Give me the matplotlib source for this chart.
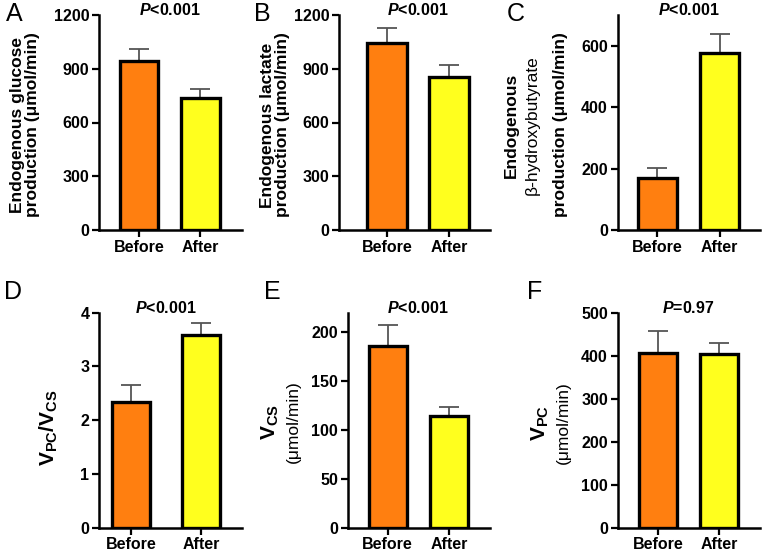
import numpy as np
import matplotlib
matplotlib.use("Agg")
import matplotlib.pyplot as plt
import matplotlib.transforms as mtransforms

plt.rcParams['font.family'] = ['Liberation Sans', 'DejaVu Sans']
plt.rcParams['mathtext.fontset'] = 'custom'
plt.rcParams['mathtext.rm'] = 'Liberation Sans'
plt.rcParams['mathtext.bf'] = 'Liberation Sans:bold'
plt.rcParams['mathtext.it'] = 'Liberation Sans:bold:italic'

# data
groups = ['Before', 'After']
bar_colors = ['#FF7F10', '#FFFF1E']

glucose = [943, 735]
glucose_err = [65, 52]
lactate = [1042, 856]
lactate_err = [87, 65]
bhb = [170, 575]
bhb_err = [33, 62]
ratio = [2.34, 3.585]
ratio_err = [0.31, 0.215]
vcs = [186, 114.3]
vcs_err = [21.5, 9.2]
vpc = [407, 405]
vpc_err = [52, 26]

p_labels = [r'$\mathit{P}$<0.001'] * 5 + [r'$\mathit{P}$=0.97']

W, H = 763, 556
fig = plt.figure(figsize=(W / 100, H / 100), dpi=100)


def px_axes(left, right, top, bottom):
    return fig.add_axes([left / W, 1 - bottom / H, (right - left) / W, (bottom - top) / H])


def draw_panel(ax, vals, errs, ylim, yticks, xlim, width, ptext):
    x = np.arange(len(vals))
    lower = np.zeros(len(vals))
    ax.errorbar(x, vals, yerr=[lower, errs], fmt='none', ecolor='#555555',
                elinewidth=1.3, capsize=7.5, capthick=1.3, zorder=1)
    ax.bar(x, vals, width=width, color=bar_colors, edgecolor='black',
           linewidth=2.4, zorder=2)
    ax.set_xlim(*xlim)
    ax.set_ylim(*ylim)
    ax.set_yticks(yticks)
    ax.set_xticks(x)
    ax.set_xticklabels(groups)
    for s in ['top', 'right']:
        ax.spines[s].set_visible(False)
    for s in ['left', 'bottom']:
        ax.spines[s].set_linewidth(1.8)
    ax.tick_params(axis='both', length=5, width=1.6, labelsize=11.5, pad=2)
    for lab in ax.get_xticklabels() + ax.get_yticklabels():
        lab.set_fontweight('bold')
    trans = mtransforms.blended_transform_factory(ax.transData, ax.transAxes)
    ax.text(0.5, 1.0, ptext, transform=trans, ha='center', va='baseline',
            fontsize=11.5, fontweight='bold')


axA = px_axes(99, 241.7, 15, 230)
draw_panel(axA, glucose, glucose_err, (0, 1200), [0, 300, 600, 900, 1200],
           (-0.65, 1.67), 0.62, p_labels[0])
axB = px_axes(339.3, 490, 15, 230)
draw_panel(axB, lactate, lactate_err, (0, 1200), [0, 300, 600, 900, 1200],
           (-0.76, 1.65), 0.64, p_labels[1])
axC = px_axes(617.7, 760, 15, 230)
draw_panel(axC, bhb, bhb_err, (0, 700), [0, 200, 400, 600],
           (-0.64, 1.65), 0.62, p_labels[2])
axD = px_axes(99, 241.7, 312.7, 527.7)
draw_panel(axD, ratio, ratio_err, (0, 4), [0, 1, 2, 3, 4],
           (-0.46, 1.58), 0.55, p_labels[3])
axE = px_axes(347.7, 490, 312.7, 527.7)
draw_panel(axE, vcs, vcs_err, (0, 220), [0, 50, 100, 150, 200],
           (-0.65, 1.67), 0.62, p_labels[4])
axF = px_axes(617.7, 760, 313.3, 527.7)
draw_panel(axF, vpc, vpc_err, (0, 500), [0, 100, 200, 300, 400, 500],
           (-0.66, 1.67), 0.61, p_labels[5])


def ftext(x, y, s, **kw):
    fig.text(x / W, 1 - y / H, s, **kw)


# y labels
lab_kw = dict(rotation=90, ha='center', va='center', fontsize=12.5, fontweight='bold',
              multialignment='center', linespacing=1.05)
ftext(25, 125, 'Endogenous glucose\nproduction (μmol/min)', **lab_kw)
ftext(275, 125, 'Endogenous lactate\nproduction (μmol/min)', **lab_kw)
ftext(511, 125, 'Endogenous', **lab_kw)
ftext(532, 125, 'β-hydroxybutyrate', rotation=90, ha='center', va='center', fontsize=12.5)
ftext(561, 125, 'production (μmol/min)', **lab_kw)
ftext(49, 428, r'$\mathbf{V_{PC}/V_{CS}}$', rotation=90, ha='center', va='center', fontsize=15)
ftext(270, 422, r'$\mathbf{V_{CS}}$', rotation=90, ha='center', va='center', fontsize=15)
ftext(293, 422, '(μmol/min)', rotation=90, ha='center', va='center', fontsize=12.5)
ftext(540, 423, r'$\mathbf{V_{PC}}$', rotation=90, ha='center', va='center', fontsize=15)
ftext(563, 423, '(μmol/min)', rotation=90, ha='center', va='center', fontsize=12.5)

# panel letters
letter_kw = dict(ha='left', va='top', fontsize=18)
ftext(6, 2, 'A', **letter_kw)
ftext(254, 2, 'B', **letter_kw)
ftext(507, 2, 'C', **letter_kw)
ftext(4, 280, 'D', **letter_kw)
ftext(264, 280, 'E', **letter_kw)
ftext(527, 280, 'F', **letter_kw)

fig.savefig('out.png', dpi=100)
